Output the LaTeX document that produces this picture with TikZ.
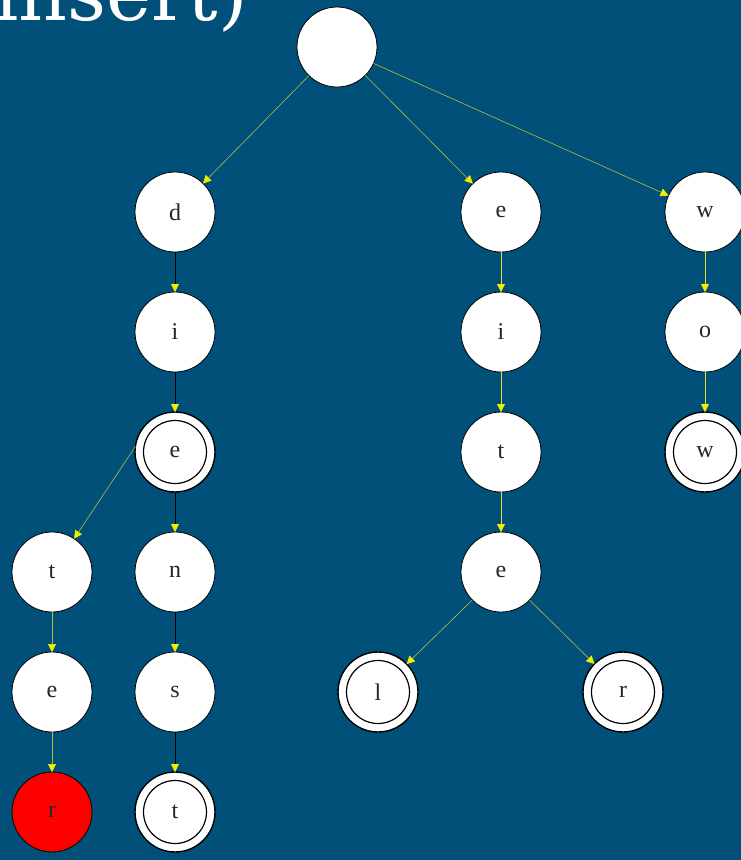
\documentclass[tikz,border=0pt]{standalone}
\usepackage{fontspec}
\setmainfont{Liberation Serif}
\newfontfamily\titlefont{DejaVu Serif}
\usetikzlibrary{arrows.meta}
\definecolor{bg}{HTML}{00507A}
\definecolor{ylw}{HTML}{E6E632}
\definecolor{olv}{HTML}{B4BE3C}
\definecolor{tipc}{HTML}{F0F000}
\begin{document}
\begin{tikzpicture}[x=1pt,y=-1pt,
  st/.style={circle,draw=black,line width=0.8pt,fill=white,minimum size=80pt,
    inner sep=0pt,outer sep=0pt,font=\fontsize{24}{24}\selectfont,text=black!85},
  acc/.style={st,line width=1.4pt,path picture={\draw[line width=1.2pt]
    (path picture bounding box.center) circle[radius=31.5pt];}},
  hot/.style={st,fill=red},
  edg/.style={-{Triangle[length=8pt,width=8pt,color=tipc]},line width=0.6pt,draw=olv},
  edgk/.style={edg,draw=black,line width=0.8pt},
  edgy/.style={edg,draw=ylw,line width=0.9pt}]
\fill[bg] (0,0) rectangle (741,860);
\useasboundingbox (0,0) rectangle (741,860);
\clip (0,0) rectangle (741,860);
\node[anchor=base east,text=white,inner sep=0pt,
  font=\titlefont\fontsize{76}{76}\selectfont] (title) at (248,20) {(insert)};
% nodes
\node[st] (root) at (337,47) {};
\node[st] (d) at (175,212) {d};
\node[st] (i1) at (175,332) {i};
\node[acc] (e1) at (175,452) {e};
\node[st] (n) at (175,572) {n};
\node[st] (s) at (175,692) {s};
\node[acc] (t1) at (175,812) {t};
\node[st] (t2) at (52,572) {t};
\node[st] (e2) at (52,692) {e};
\node[hot] (r1) at (52,812) {r};
\node[st] (e3) at (501,212) {e};
\node[st] (i2) at (501,332) {i};
\node[st] (t3) at (501,452) {t};
\node[st] (e4) at (501,572) {e};
\node[acc] (l) at (378,692) {l};
\node[acc] (r2) at (623,692) {r};
\node[st] (w1) at (705,212) {w};
\node[st] (o) at (705,332) {o};
\node[acc] (w2) at (705,452) {w};
% edges
\draw[edg] (root) -- (d);
\draw[edg] (root) -- (e3);
\draw[edg] (root) -- (w1);
\draw[edgk] (d) -- (i1);
\draw[edgk] (i1) -- (e1);
\draw[edgk] (e1) -- (n);
\draw[edgk] (n) -- (s);
\draw[edgk] (s) -- (t1);
\draw[edg] (e1.172) -- (t2);
\draw[edg] (t2) -- (e2);
\draw[edg] (e2) -- (r1);
\draw[edgy] (e3) -- (i2);
\draw[edgy] (i2) -- (t3);
\draw[edgy] (t3) -- (e4);
\draw[edg] (e4) -- (l);
\draw[edg] (e4) -- (r2);
\draw[edgy] (w1) -- (o);
\draw[edgy] (o) -- (w2);
\end{tikzpicture}
\end{document}
